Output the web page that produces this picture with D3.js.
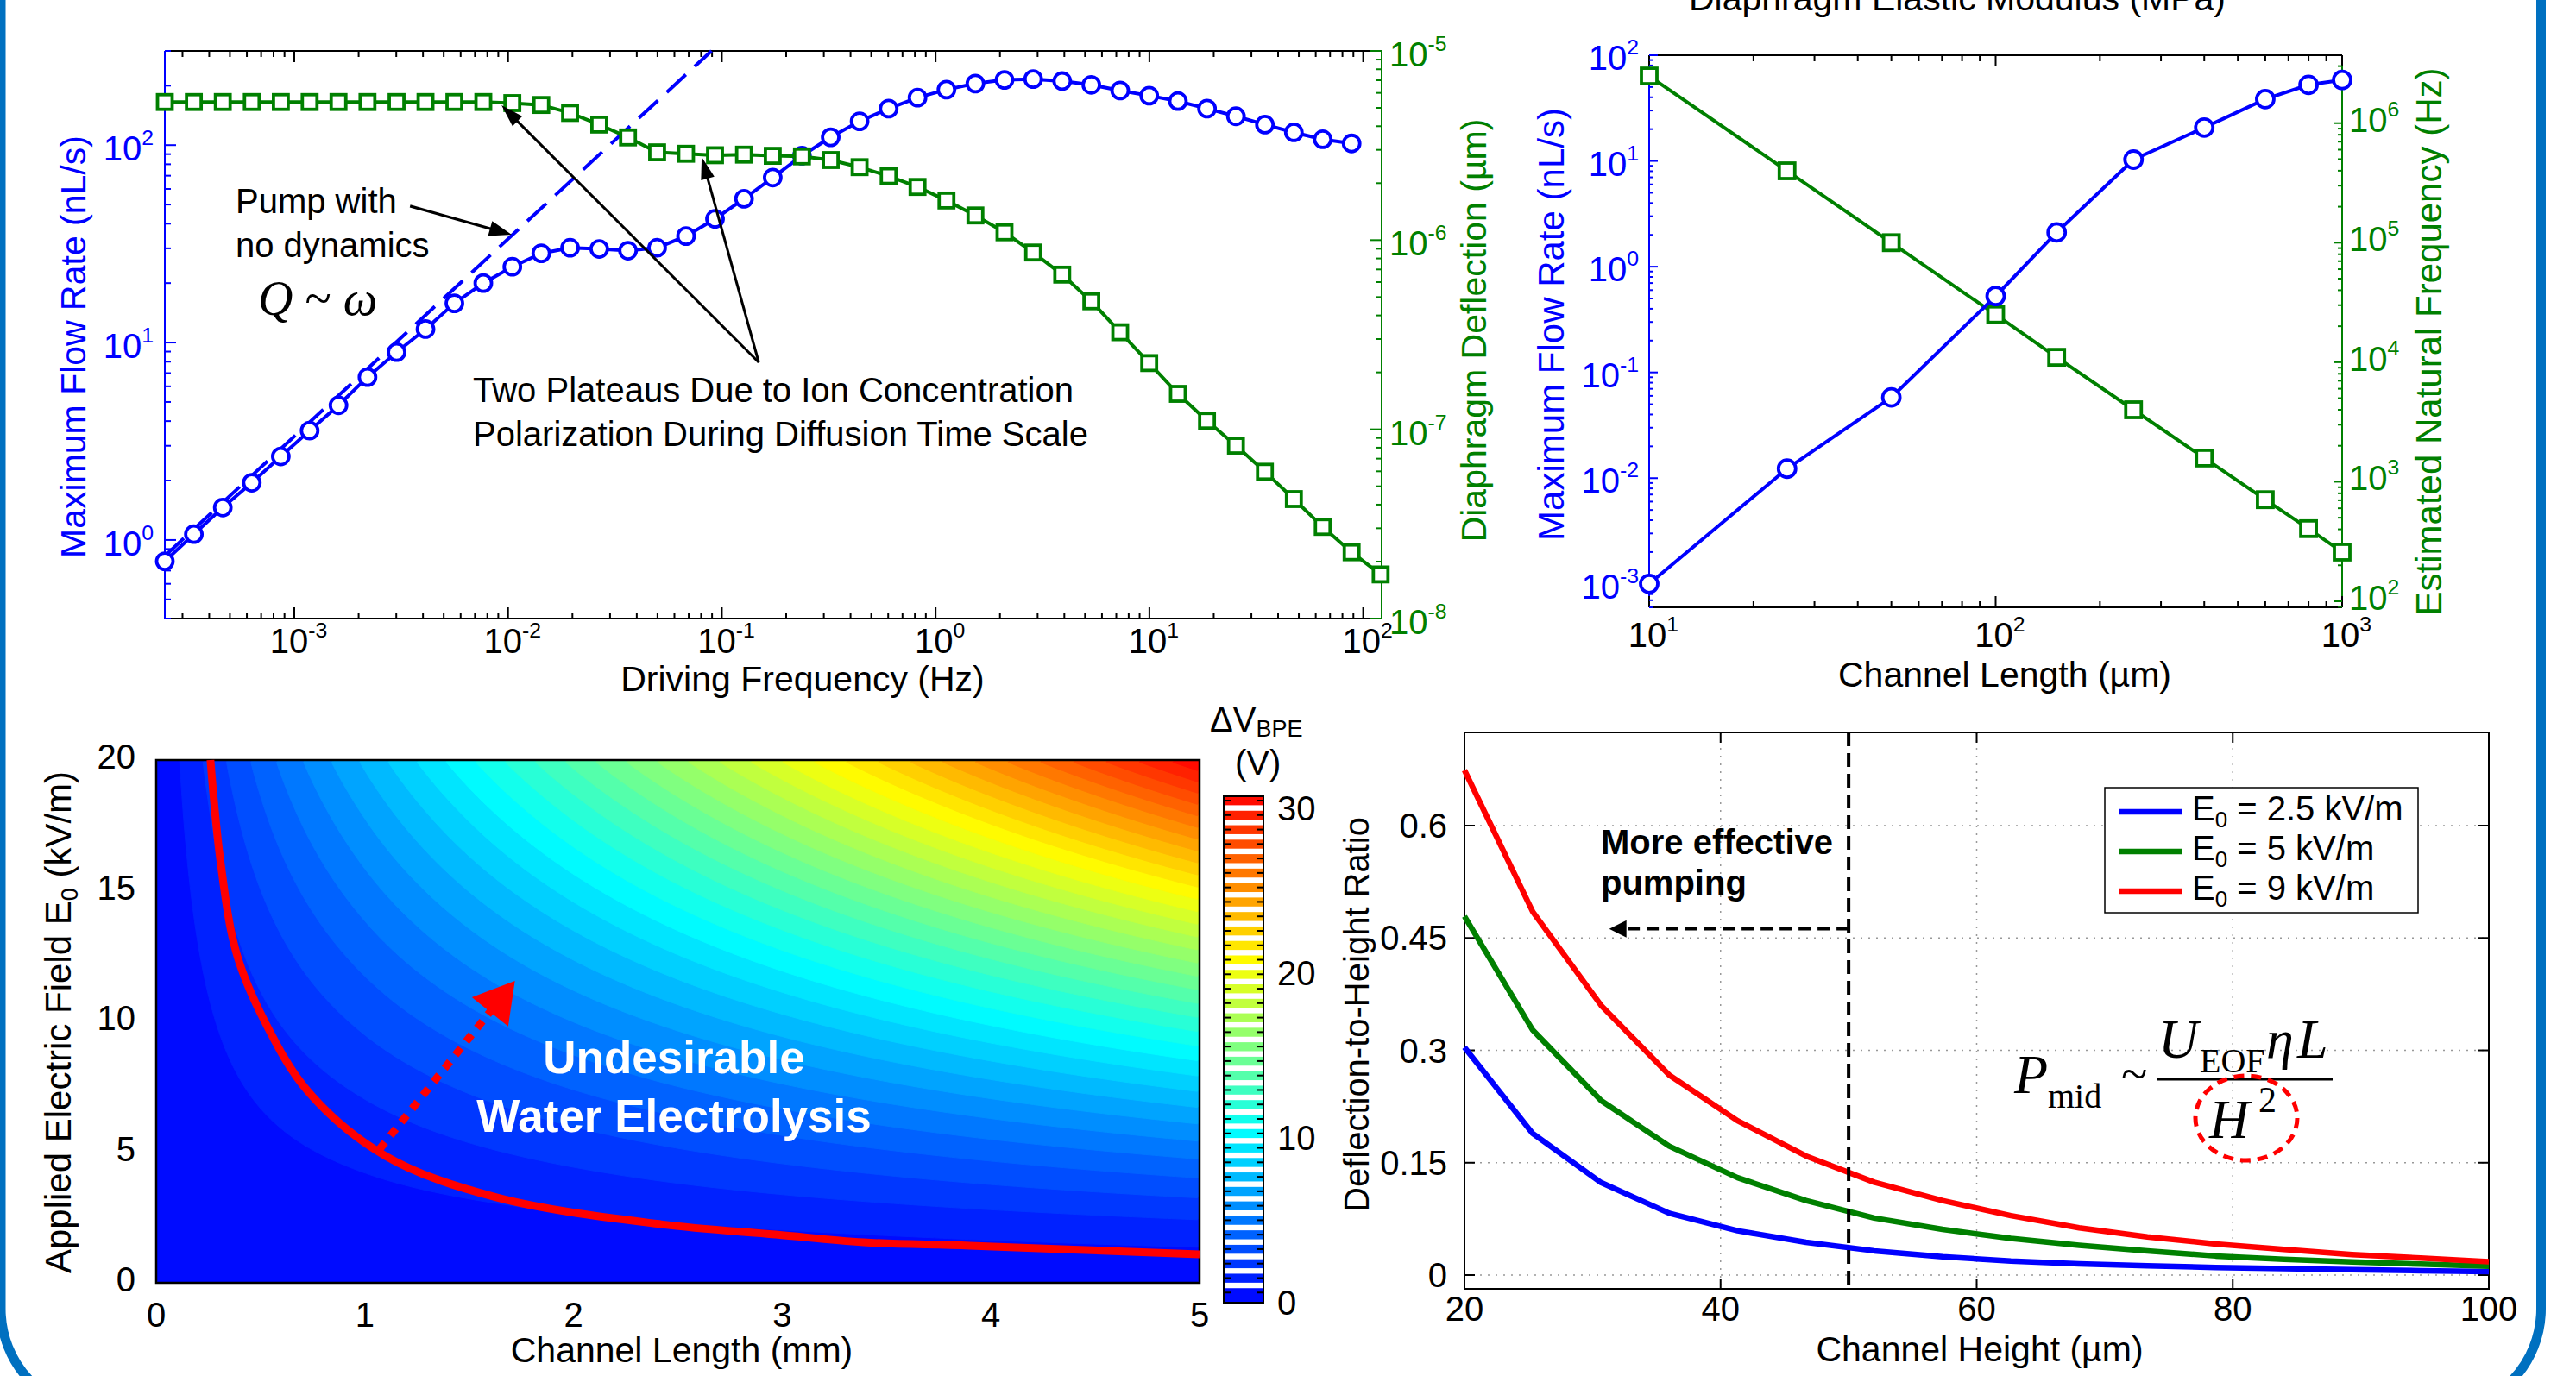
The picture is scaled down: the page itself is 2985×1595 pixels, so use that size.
<!DOCTYPE html>
<html><head><meta charset="utf-8">
<script src="https://cdn.jsdelivr.net/npm/d3@7"></script>
<style>body{margin:0;background:#fff}svg{display:block}text{font-family:"Liberation Sans",Arial,sans-serif}</style>
</head><body>
<script>
// ---------------- DATA ----------------
// Panel A: frequency sweep
const freqHz = [2.48e-4,3.39e-4,4.63e-4,6.33e-4,8.65e-4,1.18e-3,1.61e-3,2.20e-3,3.01e-3,4.11e-3,5.61e-3,7.66e-3,1.047e-2,1.43e-2,1.95e-2,2.67e-2,3.64e-2,4.98e-2,6.80e-2,9.29e-2,0.127,0.173,0.237,0.323,0.441,0.603,0.823,1.124,1.535,2.10,2.86,3.91,5.35,7.30,9.98,13.6,18.6,25.4,34.7,47.4,64.7,88.3,120.7];
const flowRateA = [0.78,1.07,1.46,1.95,2.65,3.58,4.81,6.68,8.94,11.7,15.8,20.0,24.2,28.3,30.2,29.8,29.2,30.2,34.6,42.3,53.5,68.5,88.4,109.6,132,153,174,191,205,214,216,211,202,189,178,167,153,140,127,116,107,102];
const deflectionA = [5.37e-6,5.37e-6,5.37e-6,5.37e-6,5.37e-6,5.37e-6,5.37e-6,5.37e-6,5.37e-6,5.37e-6,5.37e-6,5.37e-6,5.30e-6,5.18e-6,4.70e-6,4.08e-6,3.49e-6,2.91e-6,2.86e-6,2.81e-6,2.83e-6,2.79e-6,2.77e-6,2.65e-6,2.43e-6,2.18e-6,1.91e-6,1.62e-6,1.35e-6,1.10e-6,8.6e-7,6.57e-7,4.75e-7,3.26e-7,2.24e-7,1.54e-7,1.11e-7,8.2e-8,5.97e-8,4.28e-8,3.05e-8,2.24e-8,1.71e-8];
const noDynFreq = [2.48e-4, 0.0895];
const noDynFlow = [0.83, 300];
const aXTickExp = [-3,-2,-1,0,1,2];
const aYLTickExp = [0,1,2];
const aYRTickExp = [-8,-7,-6,-5];

// Panel B: channel length sweep
const chanLenUm = [10,25,50,100,150,250,400,600,800,1000];
const flowRateB = [0.001,0.0123,0.058,0.527,2.11,10.3,20.7,38.4,52.5,58.3];
const natFreqB = [2.48e6,3.99e5,1.0e5,2.5e4,1.1e4,4.0e3,1.58e3,708,405,258];
const bXTickExp = [1,2,3];
const bYLTickExp = [-3,-2,-1,0,1,2];
const bYRTickExp = [2,3,4,5,6];

// Panel C: ΔV_BPE map (rows: E0 in kV/m, cols: channel length in mm)
const dvLengthMm = [0,0.5,1,1.5,2,2.5,3,3.5,4,4.5,5];
const dvFieldKVm = [0,2,4,6,8,10,12,14,16,18,20];
const dvGrid = [
 [0,0,0,0,0,0,0,0,0,0,0],
 [0,0.173,0.323,0.465,0.602,0.736,0.867,0.996,1.124,1.249,1.374],
 [0,0.441,0.822,1.184,1.534,1.876,2.210,2.539,2.863,3.183,3.500],
 [0,0.761,1.420,2.047,2.651,3.241,3.819,4.387,4.948,5.500,6.048],
 [0,1.123,2.095,3.019,3.911,4.781,5.634,6.471,7.298,8.114,8.921],
 [0,1.518,2.832,4.080,5.285,6.460,7.613,8.745,9.862,10.964,12.055],
 [0,1.941,3.622,5.218,6.760,8.264,9.738,11.186,12.615,14.025,15.420],
 [0,2.390,4.459,6.424,8.323,10.174,11.989,13.772,15.531,17.267,18.985],
 [0,2.863,5.341,7.694,9.968,12.185,14.359,16.494,18.601,20.680,22.737],
 [0,3.356,6.261,9.020,11.686,14.284,16.833,19.336,21.806,24.243,26.655],
 [0,3.869,7.218,10.399,13.472,16.468,19.406,22.292,25.140,27.949,30.73]
];
const dvMax = 30.73, dvLevels = 35;
const electrolysisL = [0.26,0.31,0.385,0.52,0.73,1.1,1.63,2.42,2.97,3.39,3.9,5.0];
const electrolysisE = [20.0,16.0,12.6,10.0,7.3,4.85,3.27,2.24,1.85,1.55,1.42,1.09];
const cXTicks = [0,1,2,3,4,5];
const cYTicks = [0,5,10,15,20];
const cbTicks = [0,10,20,30];

// Panel D: deflection-to-height ratio
const heightUm = [20,25.33,30.67,36,41.33,46.67,52,57.33,62.67,68,73.33,78.67,84,89.33,94.67,100];
const ratioE25 = [0.304,0.189,0.1235,0.0825,0.0592,0.0438,0.0324,0.0245,0.0187,0.0151,0.0124,0.0102,0.0086,0.0071,0.0058,0.0046];
const ratioE5  = [0.479,0.327,0.233,0.172,0.130,0.0995,0.0762,0.061,0.0489,0.0398,0.0322,0.0255,0.0211,0.0175,0.0146,0.0119];
const ratioE9  = [0.674,0.485,0.360,0.267,0.206,0.159,0.124,0.0995,0.0793,0.063,0.051,0.0416,0.0342,0.0275,0.0228,0.018];
const dSeriesNames = ['2.5','5','9'];
const dXTicks = [20,40,60,80,100];
const dYTicks = [0,0.15,0.3,0.45,0.6];
const dYTickLabels = ['0','0.15','0.3','0.45','0.6'];

// ---------------- SETUP ----------------
const W = 2985, H = 1595;
const BLUE = '#0000ff', GREEN = '#008000', RED = '#ff0000', BLK = '#000';
const svg = d3.select('body').append('svg').attr('width', W).attr('height', H);
svg.append('rect').attr('width', W).attr('height', H).attr('fill', '#fff');

function logTickList(scale) {
  const [a, b] = scale.domain();
  const out = [];
  for (let e = Math.floor(Math.log10(a)) - 1; e <= Math.ceil(Math.log10(b)); e++) {
    for (let k = 1; k <= 9; k++) {
      const v = k * Math.pow(10, e);
      if (v >= a * 0.9999 && v <= b * 1.0001) out.push({ v, major: k === 1 });
    }
  }
  return out;
}
function drawTicks(g, scale, side, box, color, ticks, majLen, minLen, sw) {
  ticks.forEach(t => {
    const p = scale(t.v), len = t.major ? majLen : minLen;
    let x0, y0, x1, y1;
    if (side === 'bottom') { x0 = x1 = p; y0 = box.b; y1 = box.b - len; }
    if (side === 'top') { x0 = x1 = p; y0 = box.t; y1 = box.t + len; }
    if (side === 'left') { y0 = y1 = p; x0 = box.l; x1 = box.l + len; }
    if (side === 'right') { y0 = y1 = p; x0 = box.r; x1 = box.r - len; }
    g.append('line').attr('x1', x0).attr('y1', y0).attr('x2', x1).attr('y2', y1)
      .attr('stroke', color).attr('stroke-width', sw || 2);
  });
}
function powLabel(g, x, y, exp, anchor, color, fs) {
  const t = g.append('text').attr('x', x).attr('y', y).attr('text-anchor', anchor)
    .attr('fill', color).attr('font-size', fs);
  t.append('tspan').text('10');
  t.append('tspan').attr('dy', -fs * 0.45).attr('font-size', fs * 0.62).text(exp);
  return t;
}
function vLabel(g, x, y, txt, color, fs) {
  return g.append('text').attr('transform', `translate(${x},${y}) rotate(-90)`)
    .attr('text-anchor', 'middle').attr('fill', color).attr('font-size', fs).text(txt);
}
function arrow(g, x0, y0, x1, y1, hl, hw, color, sw, dash) {
  const dx = x1 - x0, dy = y1 - y0, L = Math.hypot(dx, dy), ux = dx / L, uy = dy / L;
  const bx = x1 - ux * hl, by = y1 - uy * hl;
  const ln = g.append('line').attr('x1', x0).attr('y1', y0).attr('x2', bx + ux * 2).attr('y2', by + uy * 2)
    .attr('stroke', color).attr('stroke-width', sw);
  if (dash) ln.attr('stroke-dasharray', dash);
  g.append('path').attr('d', `M${x1},${y1}L${bx - uy * hw},${by + ux * hw}L${bx + uy * hw},${by - ux * hw}Z`)
    .attr('fill', color);
}

// ---------------- PANEL A ----------------
{
  const g = svg.append('g');
  const box = { l: 191, r: 1601, t: 59, b: 717 };
  const x = d3.scaleLog().domain([2.48e-4, 122]).range([box.l, box.r]);
  const yL = d3.scaleLog().domain([0.4, 300]).range([box.b, box.t]);
  const yR = d3.scaleLog().domain([1e-8, 1e-5]).range([box.b, box.t]);

  g.append('line').attr('x1', box.l).attr('x2', box.r).attr('y1', box.t).attr('y2', box.t).attr('stroke', BLK).attr('stroke-width', 2);
  g.append('line').attr('x1', box.l).attr('x2', box.r).attr('y1', box.b).attr('y2', box.b).attr('stroke', BLK).attr('stroke-width', 2);
  g.append('line').attr('x1', box.l).attr('x2', box.l).attr('y1', box.t).attr('y2', box.b).attr('stroke', BLUE).attr('stroke-width', 2);
  g.append('line').attr('x1', box.r).attr('x2', box.r).attr('y1', box.t).attr('y2', box.b).attr('stroke', GREEN).attr('stroke-width', 2);
  const xt = logTickList(x);
  drawTicks(g, x, 'bottom', box, BLK, xt, 13, 7);
  drawTicks(g, x, 'top', box, BLK, xt, 13, 7);
  drawTicks(g, yL, 'left', box, BLUE, logTickList(yL), 13, 7);
  drawTicks(g, yR, 'right', box, GREEN, logTickList(yR), 13, 7);
  aXTickExp.forEach(e => powLabel(g, x(Math.pow(10, e)) + 5, box.b + 40, String(e), 'middle', BLK, 40));
  aYLTickExp.forEach(e => powLabel(g, box.l - 13, yL(Math.pow(10, e)) + 18, String(e), 'end', BLUE, 40));
  aYRTickExp.forEach(e => powLabel(g, box.r + 9, yR(Math.pow(10, e)) + 18, String(e), 'start', GREEN, 40));
  g.append('text').attr('x', 930).attr('y', 801).attr('text-anchor', 'middle').attr('font-size', 41).text('Driving Frequency (Hz)');
  vLabel(g, 99, 402, 'Maximum Flow Rate (nL/s)', BLUE, 41);
  vLabel(g, 1722, 383, 'Diaphragm Deflection (µm)', GREEN, 41);

  g.append('path').datum(noDynFreq.map((f, i) => [f, noDynFlow[i]]))
    .attr('d', d3.line().x(d => x(d[0])).y(d => yL(d[1])))
    .attr('stroke', BLUE).attr('stroke-width', 4).attr('fill', 'none').attr('stroke-dasharray', '30,14');

  const fData = flowRateA.map((q, i) => [freqHz[i], q]);
  g.append('path').datum(fData).attr('d', d3.line().x(d => x(d[0])).y(d => yL(d[1])))
    .attr('stroke', BLUE).attr('stroke-width', 4).attr('fill', 'none');
  g.selectAll('circle.fa').data(fData).join('circle').attr('cx', d => x(d[0])).attr('cy', d => yL(d[1]))
    .attr('r', 9.5).attr('fill', '#fff').attr('stroke', BLUE).attr('stroke-width', 3.8);

  const dData = deflectionA.map((v, i) => [freqHz[i], v]);
  g.append('path').datum(dData).attr('d', d3.line().x(d => x(d[0])).y(d => yR(d[1])))
    .attr('stroke', GREEN).attr('stroke-width', 4).attr('fill', 'none');
  g.selectAll('rect.da').data(dData).join('rect').attr('x', d => x(d[0]) - 8.5).attr('y', d => yR(d[1]) - 8.5)
    .attr('width', 17).attr('height', 17).attr('fill', '#fff').attr('stroke', GREEN).attr('stroke-width', 3.8);

  const t1 = g.append('text').attr('font-size', 40).attr('fill', BLK);
  t1.append('tspan').attr('x', 273).attr('y', 247).text('Pump with');
  t1.append('tspan').attr('x', 273).attr('y', 298).text('no dynamics');
  const q = g.append('text').attr('x', 299).attr('y', 365).attr('font-size', 56)
    .style('font-family', '"Liberation Serif","Times New Roman",serif').attr('font-style', 'italic');
  q.append('tspan').text('Q');
  q.append('tspan').attr('font-style', 'normal').text(' ~ ');
  q.append('tspan').text('ω');
  const t2 = g.append('text').attr('font-size', 40).attr('fill', BLK);
  t2.append('tspan').attr('x', 548).attr('y', 466).text('Two Plateaus Due to Ion Concentration');
  t2.append('tspan').attr('x', 548).attr('y', 517).text('Polarization During Diffusion Time Scale');
  arrow(g, x(3.48e-3), yL(49.1), x(0.0104), yL(35.2), 26, 9, BLK, 3.2);
  arrow(g, x(0.1488), yL(7.94), x(9.32e-3), yL(159), 26, 8, BLK, 3);
  arrow(g, x(0.1488), yL(7.94), x(0.0805), yL(87.1), 26, 8, BLK, 3);
}

// ---------------- PANEL B ----------------
{
  const g = svg.append('g');
  const box = { l: 1911, r: 2714, t: 64, b: 704 };
  const x = d3.scaleLog().domain([10, 1000]).range([box.l, box.r]);
  const yL = d3.scaleLog().domain([6e-4, 100]).range([box.b, box.t]);
  const yR = d3.scaleLog().domain([89, 3.7e6]).range([box.b, box.t]);
  g.append('line').attr('x1', box.l).attr('x2', box.r).attr('y1', box.t).attr('y2', box.t).attr('stroke', BLK).attr('stroke-width', 2);
  g.append('line').attr('x1', box.l).attr('x2', box.r).attr('y1', box.b).attr('y2', box.b).attr('stroke', BLK).attr('stroke-width', 2);
  g.append('line').attr('x1', box.l).attr('x2', box.l).attr('y1', box.t).attr('y2', box.b).attr('stroke', BLUE).attr('stroke-width', 2);
  g.append('line').attr('x1', box.r).attr('x2', box.r).attr('y1', box.t).attr('y2', box.b).attr('stroke', GREEN).attr('stroke-width', 2);
  const xt = logTickList(x);
  drawTicks(g, x, 'bottom', box, BLK, xt, 13, 7);
  drawTicks(g, x, 'top', box, BLK, xt, 13, 7);
  drawTicks(g, yL, 'left', box, BLUE, logTickList(yL), 10, 5);
  drawTicks(g, yR, 'right', box, GREEN, logTickList(yR), 10, 5);
  bXTickExp.forEach(e => powLabel(g, x(Math.pow(10, e)) + 5, box.b + 46, String(e), 'middle', BLK, 40));
  bYLTickExp.forEach(e => powLabel(g, box.l - 12, yL(Math.pow(10, e)) + 17, String(e), 'end', BLUE, 40));
  bYRTickExp.forEach(e => powLabel(g, box.r + 8, yR(Math.pow(10, e)) + 10, String(e), 'start', GREEN, 40));
  g.append('text').attr('x', 2323).attr('y', 796).attr('text-anchor', 'middle').attr('font-size', 41).text('Channel Length (µm)');
  g.append('text').attr('x', 2268).attr('y', 12).attr('text-anchor', 'middle').attr('font-size', 41).text('Diaphragm Elastic Modulus (MPa)');
  vLabel(g, 1812, 376, 'Maximum Flow Rate (nL/s)', BLUE, 42);
  vLabel(g, 2829, 396, 'Estimated Natural Frequency (Hz)', GREEN, 42);

  const fData = flowRateB.map((v, i) => [chanLenUm[i], v]);
  const nData = natFreqB.map((v, i) => [chanLenUm[i], v]);
  g.append('path').datum(nData).attr('d', d3.line().x(d => x(d[0])).y(d => yR(d[1])))
    .attr('stroke', GREEN).attr('stroke-width', 4).attr('fill', 'none');
  g.selectAll('rect.nb').data(nData).join('rect').attr('x', d => x(d[0]) - 9).attr('y', d => yR(d[1]) - 9)
    .attr('width', 18).attr('height', 18).attr('fill', '#fff').attr('stroke', GREEN).attr('stroke-width', 3.8);
  g.append('path').datum(fData).attr('d', d3.line().x(d => x(d[0])).y(d => yL(d[1])))
    .attr('stroke', BLUE).attr('stroke-width', 4).attr('fill', 'none');
  g.selectAll('circle.fb').data(fData).join('circle').attr('cx', d => x(d[0])).attr('cy', d => yL(d[1]))
    .attr('r', 10).attr('fill', '#fff').attr('stroke', BLUE).attr('stroke-width', 3.8);
}

// ---------------- PANEL C ----------------
{
  const g = svg.append('g');
  const box = { l: 181, r: 1390, t: 881, b: 1487 };
  const x = d3.scaleLinear().domain([0, 5]).range([box.l, box.r]);
  const y = d3.scaleLinear().domain([0, 20]).range([box.b, box.t]);
  const jet = t => {
    const v = 0.125 + 0.75 * t;
    const c = a => Math.max(0, Math.min(1, a));
    return d3.rgb(255 * c(1.5 - Math.abs(4 * v - 3)), 255 * c(1.5 - Math.abs(4 * v - 2)), 255 * c(1.5 - Math.abs(4 * v - 1))).toString();
  };
  const nI = dvLengthMm.length, nJ = dvFieldKVm.length;
  const colVal = (j, i) => {
    if (i < 0) return 2 * dvGrid[j][0] - dvGrid[j][1];
    if (i > nI - 1) return 2 * dvGrid[j][nI - 1] - dvGrid[j][nI - 2];
    return dvGrid[j][i];
  };
  const gridVal = (j, i) => {
    if (j < 0) return 2 * colVal(0, i) - colVal(1, i);
    if (j > nJ - 1) return 2 * colVal(nJ - 1, i) - colVal(nJ - 2, i);
    return colVal(j, i);
  };
  const cr = (p0, p1, p2, p3, t) => 0.5 * (2 * p1 + (-p0 + p2) * t + (2 * p0 - 5 * p1 + 4 * p2 - p3) * t * t + (-p0 + 3 * p1 - 3 * p2 + p3) * t * t * t);
  const fieldAt = (L, E) => {
    const fi = L / (dvLengthMm[1] - dvLengthMm[0]), fj = E / (dvFieldKVm[1] - dvFieldKVm[0]);
    const i = Math.min(nI - 2, Math.floor(fi)), j = Math.min(nJ - 2, Math.floor(fj));
    const tx = fi - i, ty = fj - j;
    const rows = [-1, 0, 1, 2].map(dj => cr(gridVal(j + dj, i - 1), gridVal(j + dj, i), gridVal(j + dj, i + 1), gridVal(j + dj, i + 2), tx));
    return Math.max(0, cr(rows[0], rows[1], rows[2], rows[3], ty));
  };
  const nx = 242, ny = 122;
  const gx = d3.scaleLinear().domain([0, nx]).range([0, 5]);
  const gy = d3.scaleLinear().domain([0, ny]).range([20, 0]);
  const vals = new Float64Array(nx * ny);
  for (let j = 0; j < ny; j++) for (let i = 0; i < nx; i++) vals[j * nx + i] = fieldAt(gx(i + 0.5), gy(j + 0.5));
  const step = dvMax / dvLevels;
  const thresholds = d3.range(dvLevels).map(k => k * step);
  const cs = d3.contours().size([nx, ny]).thresholds(thresholds)(vals);
  const proj = d3.geoTransform({ point(px, py) { this.stream.point(x(gx(px)), y(gy(py))); } });
  const path = d3.geoPath(proj);
  g.selectAll('path.band').data(cs).join('path').attr('d', path)
    .attr('fill', (d, k) => jet((k + 0.5) / dvLevels)).attr('stroke', (d, k) => jet((k + 0.5) / dvLevels)).attr('stroke-width', 1);
  g.append('rect').attr('x', box.l).attr('y', box.t).attr('width', box.r - box.l).attr('height', box.b - box.t)
    .attr('fill', 'none').attr('stroke', BLK).attr('stroke-width', 2.5);

  g.append('path').datum(electrolysisL.map((L, i) => [L, electrolysisE[i]]))
    .attr('d', d3.line().x(d => x(d[0])).y(d => y(d[1])).curve(d3.curveCatmullRom))
    .attr('stroke', RED).attr('stroke-width', 9).attr('fill', 'none');
  arrow(g, x(1.071), y(5.12), x(1.719), y(11.55), 46, 27, RED, 9, '10,10');
  const wt = g.append('text').attr('text-anchor', 'middle').attr('font-size', 53).attr('font-weight', 'bold').attr('fill', '#fff');
  wt.append('tspan').attr('x', 781).attr('y', 1244).text('Undesirable');
  wt.append('tspan').attr('x', 781).attr('y', 1312).text('Water Electrolysis');

  cXTicks.forEach(v => g.append('text').attr('x', x(v)).attr('y', 1538).attr('text-anchor', 'middle').attr('font-size', 40).text(v));
  cYTicks.forEach(v => g.append('text').attr('x', 157).attr('y', y(v) + 10).attr('text-anchor', 'end').attr('font-size', 40).text(v));
  g.append('text').attr('x', 790).attr('y', 1579).attr('text-anchor', 'middle').attr('font-size', 41).text('Channel Length (mm)');
  const yl = g.append('text').attr('transform', 'translate(82,1185) rotate(-90)').attr('text-anchor', 'middle').attr('font-size', 42);
  yl.append('tspan').text('Applied Electric Field E');
  yl.append('tspan').attr('dy', 8).attr('font-size', 27).text('0');
  yl.append('tspan').attr('dy', -8).text(' (kV/m)');

  const cb = { l: 1418, r: 1464 };
  const cy = d3.scaleLinear().domain([0, dvMax]).range([1510, 923]);
  for (let k = 0; k < dvLevels; k++) {
    const yt = cy((k + 1) * step), yb = cy(k * step), h = yb - yt;
    const col = jet((k + 0.5) / dvLevels);
    g.append('rect').attr('x', cb.l).attr('y', yt).attr('width', cb.r - cb.l).attr('height', k === 0 ? h : h * 0.62).attr('fill', col);
    [cb.l, cb.r].forEach((xx, s) => g.append('line').attr('x1', xx).attr('x2', s ? xx - 8 : xx + 8)
      .attr('y1', yt + h * 0.3).attr('y2', yt + h * 0.3).attr('stroke', BLK).attr('stroke-width', 2));
  }
  g.append('rect').attr('x', cb.l).attr('y', cy(dvMax)).attr('width', cb.r - cb.l).attr('height', cy(0) - cy(dvMax))
    .attr('fill', 'none').attr('stroke', BLK).attr('stroke-width', 2);
  cbTicks.forEach(v => g.append('text').attr('x', 1480).attr('y', cy(v) + 14).attr('font-size', 40).text(v));
  const cl = g.append('text').attr('x', 1402).attr('y', 848).attr('font-size', 40);
  cl.append('tspan').text('ΔV');
  cl.append('tspan').attr('dy', 6).attr('font-size', 27).text('BPE');
  g.append('text').attr('x', 1431).attr('y', 898).attr('font-size', 40).text('(V)');
}

// ---------------- PANEL D ----------------
{
  const g = svg.append('g');
  const box = { l: 1697, r: 2884, t: 849, b: 1494 };
  const x = d3.scaleLinear().domain([20, 100]).range([box.l, box.r]);
  const y = d3.scaleLinear().domain([-0.0184, 0.7244]).range([box.b, box.t]);
  dXTicks.filter(v => v > 20 && v < 100).forEach(v => g.append('line').attr('x1', x(v)).attr('x2', x(v)).attr('y1', box.t).attr('y2', box.b)
    .attr('stroke', '#999').attr('stroke-width', 1.5).attr('stroke-dasharray', '2,7'));
  dYTicks.forEach(v => g.append('line').attr('x1', box.l).attr('x2', box.r).attr('y1', y(v)).attr('y2', y(v))
    .attr('stroke', '#999').attr('stroke-width', 1.5).attr('stroke-dasharray', '2,7'));
  g.append('rect').attr('x', box.l).attr('y', box.t).attr('width', box.r - box.l).attr('height', box.b - box.t)
    .attr('fill', 'none').attr('stroke', BLK).attr('stroke-width', 2);
  const xt = dXTicks.map(v => ({ v, major: true })), yt = dYTicks.map(v => ({ v, major: true }));
  drawTicks(g, x, 'bottom', box, BLK, xt, 12, 12);
  drawTicks(g, x, 'top', box, BLK, xt, 12, 12);
  drawTicks(g, y, 'left', box, BLK, yt, 12, 12);
  drawTicks(g, y, 'right', box, BLK, yt, 12, 12);
  dXTicks.forEach(v => g.append('text').attr('x', x(v)).attr('y', box.b + 37).attr('text-anchor', 'middle').attr('font-size', 40).text(v));
  dYTicks.forEach((v, i) => g.append('text').attr('x', box.l - 20).attr('y', y(v) + 14).attr('text-anchor', 'end').attr('font-size', 40).text(dYTickLabels[i]));
  g.append('text').attr('x', 2294).attr('y', 1578).attr('text-anchor', 'middle').attr('font-size', 41).text('Channel Height (µm)');
  vLabel(g, 1586, 1176, 'Deflection-to-Height Ratio', BLK, 40);

  const series = [ratioE25, ratioE5, ratioE9], cols = [BLUE, GREEN, RED];
  series.forEach((s, k) => g.append('path').datum(s.map((v, i) => [heightUm[i], v]))
    .attr('d', d3.line().x(d => x(d[0])).y(d => y(d[1])))
    .attr('stroke', cols[k]).attr('stroke-width', 6.5).attr('fill', 'none').attr('stroke-linejoin', 'round'));

  g.append('line').attr('x1', x(50)).attr('x2', x(50)).attr('y1', box.t).attr('y2', box.b)
    .attr('stroke', BLK).attr('stroke-width', 4).attr('stroke-dasharray', '16,8');
  arrow(g, x(50), y(0.462), x(31.3), y(0.462), 20, 10, BLK, 3.5, '14,8');
  const mt = g.append('text').attr('font-size', 40).attr('font-weight', 'bold');
  mt.append('tspan').attr('x', 1855).attr('y', 990).text('More effective');
  mt.append('tspan').attr('x', 1855).attr('y', 1037).text('pumping');

  g.append('rect').attr('x', 2439).attr('y', 913).attr('width', 363).attr('height', 145).attr('fill', '#fff').attr('stroke', BLK).attr('stroke-width', 1.5);
  dSeriesNames.forEach((nm, k) => {
    const yy = 941 + k * 46;
    g.append('line').attr('x1', 2455).attr('x2', 2529).attr('y1', yy).attr('y2', yy).attr('stroke', cols[k]).attr('stroke-width', 6.5);
    const t = g.append('text').attr('x', 2540).attr('y', yy + 10).attr('font-size', 40);
    t.append('tspan').text('E');
    t.append('tspan').attr('dy', 8).attr('font-size', 26).text('0');
    t.append('tspan').attr('dy', -8).text(` = ${nm} kV/m`);
  });

  const serif = '"Liberation Serif","Times New Roman",serif';
  const ft = (xx, yy, s, fs, it) => g.append('text').attr('x', xx).attr('y', yy).attr('font-size', fs)
    .style('font-family', serif).attr('font-style', it ? 'italic' : 'normal').text(s);
  ft(2334, 1267, 'P', 64, true);
  ft(2373, 1284, 'mid', 40, false);
  ft(2458, 1264, '~', 56, false);
  g.append('line').attr('x1', 2500).attr('x2', 2703).attr('y1', 1251).attr('y2', 1251).attr('stroke', BLK).attr('stroke-width', 3);
  ft(2501, 1226, 'U', 64, true);
  ft(2549, 1243, 'EOF', 40, false);
  ft(2626, 1226, 'η', 64, true);
  ft(2662, 1226, 'L', 64, true);
  ft(2560, 1319, 'H', 64, true);
  ft(2617, 1289, '2', 42, false);
  g.append('ellipse').attr('cx', 2603).attr('cy', 1296).attr('rx', 59).attr('ry', 49)
    .attr('fill', 'none').attr('stroke', RED).attr('stroke-width', 5).attr('stroke-dasharray', '12,8');
}

// ---------------- FRAME ----------------
svg.append('rect').attr('x', 1).attr('y', -300).attr('width', 2943.5).attr('height', 1937).attr('rx', 120)
  .attr('fill', 'none').attr('stroke', '#0070c0').attr('stroke-width', 11);
</script>
</body></html>
